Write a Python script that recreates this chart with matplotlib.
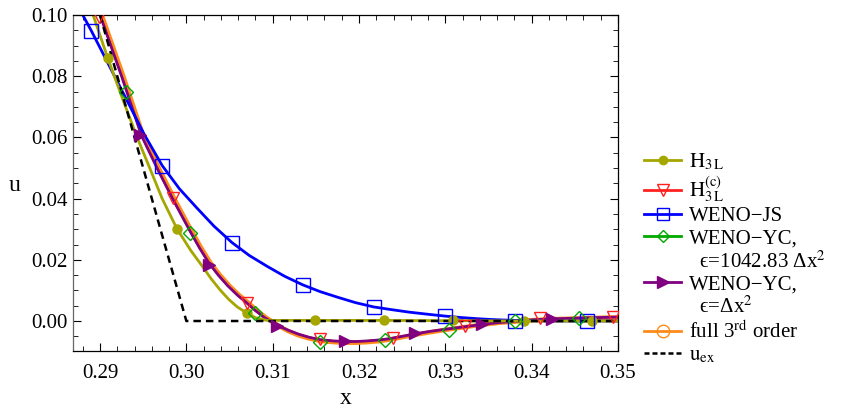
import numpy as np
import matplotlib
matplotlib.use("Agg")
import matplotlib.pyplot as plt
from matplotlib.lines import Line2D
from matplotlib.ticker import MultipleLocator

plt.rcParams['font.family'] = ['Liberation Serif', 'DejaVu Serif']
plt.rcParams['mathtext.fontset'] = 'stix'

# exact solution
x_ex = [0.29, 0.30, 0.35]
u_ex = [0.10, 0.0, 0.0]

# H_3L (olive)
x_h3l = [0.2892, 0.2909, 0.2926, 0.2943, 0.2958, 0.2972, 0.2989, 0.3005, 0.3019, 0.3029,
         0.3039, 0.3049, 0.3059, 0.3070, 0.3080, 0.3093, 0.3150, 0.3230, 0.3310, 0.3390, 0.3500]
u_h3l = [0.100, 0.0859, 0.0727, 0.060, 0.0497, 0.040, 0.0302, 0.0231, 0.0177, 0.0137,
         0.0102, 0.0071, 0.0046, 0.0026, 0.0011, 0.0002, 0.0002, 0.0002, 0.0001, 0.0, 0.0]
xm_h3l = [0.2909, 0.2989, 0.3070, 0.3149, 0.3229, 0.3309, 0.3391, 0.3470]
um_h3l = [0.0859, 0.0302, 0.0026, 0.0003, 0.0002, 0.0002, 0.0, 0.0]

# WENO-JS (blue)
x_js = [0.2880, 0.2890, 0.2910, 0.2931, 0.2951, 0.2972, 0.2992, 0.3012, 0.3032, 0.3053,
        0.3073, 0.3094, 0.3114, 0.3135, 0.3155, 0.3176, 0.3196, 0.3217, 0.3238, 0.3258,
        0.3280, 0.3300, 0.3320, 0.3340, 0.3360, 0.3381, 0.3420, 0.3500]
u_js = [0.100, 0.0948, 0.0838, 0.0722, 0.0611, 0.0508, 0.0432, 0.0370, 0.0310, 0.0256,
        0.0214, 0.0178, 0.0146, 0.0118, 0.0096, 0.0077, 0.0060, 0.0046, 0.0037, 0.0029,
        0.0022, 0.0016, 0.0011, 0.0007, 0.0004, 0.0002, 0.0, 0.0]
xm_js = [0.2890, 0.2972, 0.3053, 0.3135, 0.3217, 0.3300, 0.3381, 0.3464]
um_js = [0.0948, 0.0508, 0.0256, 0.0118, 0.0046, 0.0016, 0.0, 0.0]

# WENO-YC, eps = dx^2 (purple)
x_yc2 = [0.2900, 0.2925, 0.2948, 0.2966, 0.2984, 0.3004, 0.3015, 0.3026, 0.3037, 0.3048,
         0.3059, 0.3070, 0.3080, 0.3090, 0.3105, 0.3118, 0.3130, 0.3142, 0.3155, 0.3170,
         0.3184, 0.3197, 0.3210, 0.3223, 0.3235, 0.3250, 0.3265, 0.3282, 0.3300, 0.3322,
         0.3343, 0.3362, 0.3381, 0.3402, 0.3424, 0.3460, 0.3500]
u_yc2 = [0.100, 0.080, 0.0606, 0.050, 0.040, 0.0295, 0.0240, 0.0190, 0.0150, 0.0115,
         0.0085, 0.0059, 0.0034, 0.0012, -0.0014, -0.0030, -0.0043, -0.0053, -0.0061, -0.0065,
         -0.0067, -0.0067, -0.0065, -0.0062, -0.0058, -0.0050, -0.0042, -0.0034, -0.0027, -0.0019,
         -0.0011, -0.0005, -0.0001, 0.0004, 0.0007, 0.0010, 0.0013]
xm_yc2 = [0.2946, 0.3026, 0.3105, 0.3184, 0.3265, 0.3343, 0.3424]
um_yc2 = [0.0607, 0.0184, -0.0016, -0.0066, -0.0039, -0.0010, 0.0007]

# full 3rd order (orange)
x_f3 = [0.2902, 0.2927, 0.2950, 0.2968, 0.2986, 0.3006, 0.3017, 0.3028, 0.3039, 0.3050,
        0.3061, 0.3072, 0.3082, 0.3092, 0.3107, 0.3118, 0.3130, 0.3142, 0.3155, 0.3170,
        0.3184, 0.3197, 0.3210, 0.3223, 0.3235, 0.3250, 0.3265, 0.3282, 0.3300, 0.3322,
        0.3343, 0.3362, 0.3381, 0.3402, 0.3424, 0.3460, 0.3500]
u_f3 = [0.100, 0.080, 0.0606, 0.050, 0.040, 0.0295, 0.0240, 0.0190, 0.0150, 0.0115,
        0.0085, 0.0059, 0.0034, 0.0012, -0.0016, -0.0033, -0.0047, -0.0057, -0.0065, -0.0069,
        -0.0071, -0.0071, -0.0069, -0.0066, -0.0061, -0.0053, -0.0045, -0.0037, -0.0029, -0.0020,
        -0.0012, -0.0006, -0.0002, 0.0003, 0.0006, 0.0009, 0.0012]

# H_3L^(c) (red)
x_h3c = x_yc2
u_h3c = u_yc2
xm_h3c = [0.2899, 0.2985, 0.3070, 0.3155, 0.3239, 0.3323, 0.3410, 0.3494]
um_h3c = [0.0993, 0.0402, 0.0059, -0.0059, -0.0056, -0.0016, 0.0010, 0.0013]

# WENO-YC, eps = 1042.83 dx^2 (green)
x_yc1 = x_yc2
u_yc1 = u_yc2
xm_yc1 = [0.2930, 0.3004, 0.3080, 0.3155, 0.3230, 0.3304, 0.3381, 0.3455]
um_yc1 = [0.0748, 0.0289, 0.0026, -0.0069, -0.0062, -0.0030, 0.0, 0.0010]

c_olive = '#A6A600'
c_red = '#FF2020'
c_blue = '#0000FF'
c_green = '#00A800'
c_purple = '#800080'
c_orange = '#FF8C1A'

fig = plt.figure(figsize=(8.47, 4.12), dpi=100)
ax = fig.add_axes([73/847, 1 - 351/412, (618 - 73)/847, (351 - 15)/412])

ax.plot(x_f3, u_f3, color=c_orange, lw=3.2, zorder=2)
ax.plot(x_h3c, u_h3c, color=c_red, lw=1.2, zorder=1.5)
ax.plot(x_yc1, u_yc1, color=c_green, lw=1.2, zorder=1.5)
ax.plot(x_yc2, u_yc2, color=c_purple, lw=2.0, zorder=2.2)
ax.plot(x_js, u_js, color=c_blue, lw=2.0, zorder=2.4)
ax.plot(x_h3l, u_h3l, color=c_olive, lw=2.0, zorder=2.5)
ax.plot(x_ex, u_ex, color='black', lw=1.8, ls=(0, (3, 2)), zorder=2.6)

ax.plot(xm_h3l, um_h3l, 'o', color=c_olive, ms=6.5, zorder=3)
ax.plot(xm_h3c, um_h3c, 'v', mfc='none', mec=c_red, ms=9, mew=1.0, zorder=3)
ax.plot(xm_js, um_js, 's', mfc='none', mec=c_blue, ms=10, mew=1.0, zorder=3)
ax.plot(xm_yc1, um_yc1, 'D', mfc='none', mec=c_green, ms=7, mew=1.0, zorder=3)
ax.plot(xm_yc2, um_yc2, '>', color=c_purple, ms=9, zorder=3)

ax.set_xlim(0.28687, 0.35)
ax.set_ylim(-0.0098, 0.1)
ax.xaxis.set_major_locator(MultipleLocator(0.01))
ax.xaxis.set_minor_locator(MultipleLocator(0.002))
ax.yaxis.set_major_locator(MultipleLocator(0.02))
ax.yaxis.set_minor_locator(MultipleLocator(0.005))
ax.xaxis.set_major_formatter(plt.FuncFormatter(lambda v, p: f'{v:.2f}'))
ax.yaxis.set_major_formatter(plt.FuncFormatter(lambda v, p: f'{v:.2f}'))
ax.tick_params(which='both', direction='in', top=True, right=True, labelsize=15)
ax.tick_params(which='major', length=6, width=0.8)
ax.tick_params(which='minor', length=3.5, width=0.6)
ax.tick_params(axis='x', pad=9)
ax.tick_params(axis='y', pad=4)
for s in ax.spines.values():
    s.set_linewidth(0.9)
ax.spines['left'].set_color('#666666')

ax.set_xlabel('x', fontsize=17, labelpad=4)
ax.set_ylabel('u', fontsize=17, rotation=0)
ax.yaxis.set_label_coords(-0.108, 0.46)

handles = [
    Line2D([], [], color=c_olive, lw=2, marker='o', ms=6),
    Line2D([], [], color=c_red, lw=2, marker='v', mfc='none', ms=9),
    Line2D([], [], color=c_blue, lw=2, marker='s', mfc='none', ms=9),
    Line2D([], [], color=c_green, lw=2, marker='D', mfc='none', ms=6.5),
    Line2D([], [], ls='none'),
    Line2D([], [], color=c_purple, lw=2, marker='>', ms=9),
    Line2D([], [], ls='none'),
    Line2D([], [], color=c_orange, lw=2, marker='o', mfc='none', ms=9),
    Line2D([], [], color='black', lw=1.8, ls=(0, (2, 1.2))),
]
labels = [
    r'$\mathrm{H}_{3\,\mathrm{L}}$',
    r'$\mathrm{H}_{3\,\mathrm{L}}^{(\mathrm{c})}$',
    'WENO\u2212JS',
    'WENO\u2212YC,',
    '  \u03f5=1042.83 \u0394x$^2$',
    'WENO\u2212YC,',
    '  \u03f5=\u0394x$^2$',
    'full 3$^{\\mathrm{rd}}$ order',
    r'$\mathrm{u}_{\mathrm{ex}}$',
]
fig.legend(handles, labels, loc='upper left', bbox_to_anchor=(636/847, 1 - 143/412),
           frameon=False, fontsize=15, handlelength=1.75, handletextpad=0.4,
           labelspacing=0.12, borderaxespad=0)

fig.savefig('out.png', dpi=100)
